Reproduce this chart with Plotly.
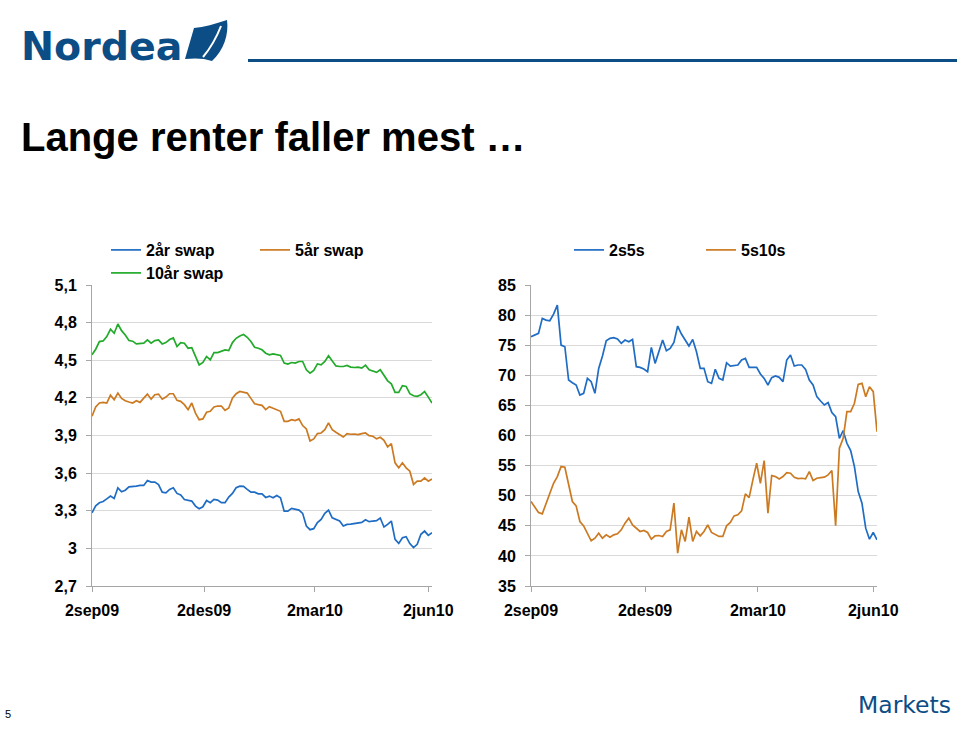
import plotly.graph_objects as go
import pandas as pd

# ---------------- data ----------------
dates = pd.date_range("2009-09-02", periods=93, freq="3D")

swap_2y = [3.284, 3.340, 3.364, 3.374, 3.395, 3.417, 3.398, 3.483, 3.451, 3.464,
           3.491, 3.491, 3.496, 3.502, 3.502, 3.541, 3.528, 3.528, 3.509, 3.448,
           3.443, 3.470, 3.483, 3.438, 3.425, 3.390, 3.385, 3.377, 3.337, 3.316,
           3.332, 3.382, 3.364, 3.390, 3.385, 3.364, 3.364, 3.409, 3.438, 3.483,
           3.496, 3.494, 3.470, 3.448, 3.448, 3.435, 3.435, 3.406, 3.417, 3.403,
           3.422, 3.403, 3.297, 3.297, 3.319, 3.311, 3.305, 3.279, 3.178, 3.149,
           3.157, 3.205, 3.231, 3.279, 3.305, 3.244, 3.231, 3.218, 3.178, 3.191,
           3.194, 3.197, 3.199, 3.207, 3.228, 3.213, 3.218, 3.221, 3.242, 3.170,
           3.191, 3.218, 3.072, 3.040, 3.085, 3.093, 3.038, 3.006, 3.032, 3.112,
           3.138, 3.104, 3.125]

swap_5y = [4.053, 4.127, 4.159, 4.164, 4.159, 4.222, 4.185, 4.238, 4.196, 4.177,
           4.167, 4.159, 4.177, 4.164, 4.198, 4.230, 4.190, 4.225, 4.230, 4.190,
           4.206, 4.233, 4.233, 4.180, 4.172, 4.146, 4.106, 4.159, 4.079, 4.026,
           4.032, 4.085, 4.093, 4.127, 4.135, 4.135, 4.100, 4.119, 4.198, 4.233,
           4.251, 4.246, 4.238, 4.196, 4.153, 4.146, 4.140, 4.106, 4.130, 4.117,
           4.106, 4.093, 4.013, 4.013, 4.026, 4.019, 4.032, 3.979, 3.952, 3.857,
           3.873, 3.915, 3.920, 3.947, 4.000, 3.947, 3.926, 3.907, 3.888, 3.915,
           3.910, 3.912, 3.907, 3.915, 3.920, 3.899, 3.894, 3.873, 3.886, 3.862,
           3.809, 3.835, 3.682, 3.642, 3.682, 3.642, 3.615, 3.510, 3.536, 3.536,
           3.562, 3.536, 3.554]

swap_10y = [4.543, 4.588, 4.649, 4.654, 4.689, 4.747, 4.715, 4.789, 4.736, 4.702,
            4.657, 4.652, 4.630, 4.636, 4.636, 4.662, 4.636, 4.657, 4.662, 4.630,
            4.641, 4.665, 4.678, 4.609, 4.641, 4.636, 4.596, 4.601, 4.535, 4.463,
            4.482, 4.530, 4.503, 4.561, 4.561, 4.575, 4.583, 4.577, 4.641, 4.675,
            4.694, 4.705, 4.683, 4.649, 4.604, 4.596, 4.583, 4.556, 4.543, 4.551,
            4.543, 4.538, 4.477, 4.469, 4.482, 4.477, 4.490, 4.490, 4.424, 4.397,
            4.418, 4.471, 4.463, 4.490, 4.535, 4.495, 4.455, 4.450, 4.450, 4.458,
            4.445, 4.442, 4.445, 4.437, 4.461, 4.424, 4.416, 4.403, 4.424, 4.376,
            4.336, 4.312, 4.244, 4.244, 4.297, 4.291, 4.233, 4.217, 4.212, 4.225,
            4.251, 4.206, 4.159]

spread_2s5s = [76.41, 76.68, 76.96, 79.45, 79.17, 79.06, 80.17, 81.66, 75.02, 74.75,
               69.22, 68.77, 68.39, 66.73, 67.00, 69.49, 68.94, 67.00, 71.15, 73.20,
               75.74, 76.13, 76.24, 76.02, 75.30, 75.85, 75.58, 75.96, 71.43, 71.32,
               71.04, 70.60, 74.64, 71.98, 74.08, 75.85, 74.08, 74.47, 75.47, 78.18,
               76.85, 75.96, 74.86, 75.96, 73.92, 71.15, 71.15, 68.94, 68.66, 70.99,
               69.49, 69.22, 72.09, 71.54, 71.59, 71.71, 72.54, 72.81, 71.32, 71.26,
               71.32, 70.21, 69.49, 68.39, 69.60, 69.88, 69.66, 68.94, 72.54, 73.36,
               71.54, 71.71, 71.71, 70.99, 69.22, 68.39, 66.45, 65.73, 65.07, 65.46,
               63.80, 63.13, 59.54, 60.81, 58.71, 57.49, 54.84, 50.69, 48.76, 44.61,
               42.78, 43.89, 42.67]

spread_5s10s = [49.03, 48.09, 47.21, 46.99, 48.65, 50.41, 52.07, 53.18, 54.84, 54.73,
                51.80, 49.03, 48.31, 45.71, 44.99, 43.67, 42.51, 42.95, 43.78, 42.95,
                43.50, 43.11, 43.50, 43.67, 44.33, 45.44, 46.27, 45.16, 44.61, 44.06,
                44.22, 43.89, 42.78, 43.33, 43.39, 43.23, 44.06, 44.33, 48.76, 40.46,
                44.33, 42.40, 46.43, 42.40, 44.06, 43.33, 44.06, 45.16, 43.89, 43.50,
                43.23, 43.23, 44.99, 45.55, 46.65, 46.82, 47.48, 50.30, 49.69, 52.63,
                55.39, 52.07, 55.83, 47.10, 53.35, 53.18, 52.79, 53.18, 53.84, 53.73,
                53.07, 52.85, 52.90, 52.79, 54.01, 52.52, 52.90, 53.01, 53.07, 53.46,
                54.18, 45.00, 57.88, 59.54, 63.96, 63.96, 65.35, 68.50, 68.66, 66.45,
                68.11, 67.28, 60.64]

x_tickvals = ["2009-09-02", "2009-12-02", "2010-03-02", "2010-06-02"]
x_ticktext = ["2sep09", "2des09", "2mar10", "2jun10"]
left_tickvals = [2.7, 3.0, 3.3, 3.6, 3.9, 4.2, 4.5, 4.8, 5.1]
left_ticktext = ["2,7", "3", "3,3", "3,6", "3,9", "4,2", "4,5", "4,8", "5,1"]
right_tickvals = [35, 40, 45, 50, 55, 60, 65, 70, 75, 80, 85]
right_ticktext = [str(v) for v in right_tickvals]

# ---------------- styling ----------------
W, H = 960, 744
BLUE = "#1f6cc4"
ORANGE = "#cc7a22"
GREEN = "#22aa2a"
NAVY = "#0c4d85"
GRID = "#d9d9d9"
AXIS = "#a6a6a6"
FONT = "Liberation Sans, Arial, sans-serif"


def px(x):
    return x / W


def py(y):
    return 1 - y / H


fig = go.Figure()

fig.add_trace(go.Scatter(x=dates, y=swap_2y, name="2år swap", mode="lines",
                         line=dict(color=BLUE, width=1.7), xaxis="x", yaxis="y",
                         legend="legend"))
fig.add_trace(go.Scatter(x=dates, y=swap_5y, name="5år swap", mode="lines",
                         line=dict(color=ORANGE, width=1.7), xaxis="x", yaxis="y",
                         legend="legend"))
fig.add_trace(go.Scatter(x=dates, y=swap_10y, name="10år swap", mode="lines",
                         line=dict(color=GREEN, width=1.7), xaxis="x", yaxis="y",
                         legend="legend3"))
fig.add_trace(go.Scatter(x=dates, y=spread_2s5s, name="2s5s", mode="lines",
                         line=dict(color=BLUE, width=1.7), xaxis="x2", yaxis="y2",
                         legend="legend2"))
fig.add_trace(go.Scatter(x=dates, y=spread_5s10s, name="5s10s", mode="lines",
                         line=dict(color=ORANGE, width=1.7), xaxis="x2", yaxis="y2",
                         legend="legend2"))

tickfont = dict(family=FONT, size=16, color="#000000", weight="bold")

xcommon = dict(type="date", tickmode="array", tickvals=x_tickvals, ticktext=x_ticktext,
               showgrid=False, showline=True, linecolor=AXIS, linewidth=1,
               ticks="outside", ticklen=5, tickcolor=AXIS, tickfont=tickfont,
               ticklabelstandoff=5, zeroline=False, fixedrange=True, automargin=False)
ycommon = dict(showgrid=True, gridcolor=GRID, gridwidth=1, showline=True, linecolor=AXIS,
               linewidth=1, ticks="outside", ticklen=5, tickcolor=AXIS, tickfont=tickfont,
               ticklabelstandoff=6, zeroline=False, fixedrange=True, automargin=False)

ydom = [py(586), py(285)]

legend_font = dict(family=FONT, size=16, weight="bold", color="#000000")

fig.update_layout(
    width=W, height=H,
    margin=dict(l=0, r=0, t=0, b=0, autoexpand=False),
    paper_bgcolor="white", plot_bgcolor="rgba(0,0,0,0)",
    font=dict(family=FONT, color="#000000"),
    xaxis=dict(domain=[px(92), px(432)], range=["2009-09-02", "2010-06-05"],
               anchor="y", **xcommon),
    yaxis=dict(domain=ydom, range=[2.7, 5.1], tickmode="array",
               tickvals=left_tickvals, ticktext=left_ticktext, anchor="x", **ycommon),
    xaxis2=dict(domain=[px(531), px(877)], range=["2009-09-02", "2010-06-05"],
                anchor="y2", **xcommon),
    yaxis2=dict(domain=ydom, range=[35, 85], tickmode="array",
                tickvals=right_tickvals, ticktext=right_ticktext, anchor="x2", **ycommon),
    showlegend=True,
    legend=dict(orientation="h", x=px(106), y=py(250), xanchor="left", yanchor="middle",
                entrywidth=104, entrywidthmode="pixels", bgcolor="rgba(0,0,0,0)",
                font=legend_font, itemclick=False, itemdoubleclick=False),
    legend3=dict(orientation="h", x=px(106), y=py(273), xanchor="left", yanchor="middle",
                 bgcolor="rgba(0,0,0,0)", font=legend_font,
                 itemclick=False, itemdoubleclick=False),
    legend2=dict(orientation="h", x=px(569), y=py(250), xanchor="left", yanchor="middle",
                 entrywidth=87, entrywidthmode="pixels", bgcolor="rgba(0,0,0,0)",
                 font=legend_font, itemclick=False, itemdoubleclick=False),
)

shapes = []
# header rule
shapes.append(dict(type="line", xref="paper", yref="paper", x0=px(248), x1=px(957),
                   y0=py(60.5), y1=py(60.5), line=dict(color=NAVY, width=3)))
# top gridline hidden behind the legend area
shapes.append(dict(type="rect", xref="paper", yref="paper", x0=px(93.5), x1=px(414),
                   y0=py(287.5), y1=py(282.5), fillcolor="white", line=dict(width=0),
                   layer="above"))
shapes.append(dict(type="rect", xref="paper", yref="paper", x0=px(532.5), x1=px(800),
                   y0=py(287.5), y1=py(282.5), fillcolor="white", line=dict(width=0),
                   layer="above"))


def path_px(points, close=True):
    segs = []
    for cmd, pts in points:
        coords = " ".join(f"{px(a):.5f},{py(b):.5f}" for a, b in pts)
        segs.append(f"{cmd} {coords}")
    return " ".join(segs) + (" Z" if close else "")


# Nordea sail
sail = path_px([("M", [(185, 59)]), ("L", [(194, 28)]),
                ("C", [(204, 27), (215, 24), (227, 20)]),
                ("C", [(229, 34), (224, 50), (212, 61)]),
                ("C", [(204, 58), (194, 58), (185, 59)])])
shapes.append(dict(type="path", xref="paper", yref="paper", path=sail,
                   fillcolor=NAVY, line=dict(width=0)))
shapes.append(dict(type="path", xref="paper", yref="paper",
                   path=path_px([("M", [(203, 57)]), ("Q", [(214, 44), (221, 26)])], close=False),
                   line=dict(color="white", width=2)))

fig.update_layout(shapes=shapes)

annotations = [
    dict(text="Nordea", x=px(19), y=py(46), xanchor="left", yanchor="middle",
         font=dict(family="DejaVu Sans, sans-serif", size=39.5, color=NAVY, weight="bold")),
    dict(text="Lange renter faller mest …", x=px(19), y=py(137), xanchor="left",
         yanchor="middle", font=dict(family=FONT, size=40, color="#000000", weight="bold")),
    dict(text="5", x=px(3), y=py(714), xanchor="left", yanchor="middle",
         font=dict(family=FONT, size=11, color="#000000")),
    dict(text="Markets", x=px(953), y=py(705), xanchor="right", yanchor="middle",
         font=dict(family="DejaVu Sans, sans-serif", size=23.5, color=NAVY)),
]
for a in annotations:
    a.update(xref="paper", yref="paper", showarrow=False)
fig.update_layout(annotations=annotations)

fig.write_html(
    "out.html",
    config={"displayModeBar": False, "staticPlot": True},
    post_script="document.body.style.margin='0';document.body.style.padding='0';"
                "document.body.style.overflow='hidden';",
)
